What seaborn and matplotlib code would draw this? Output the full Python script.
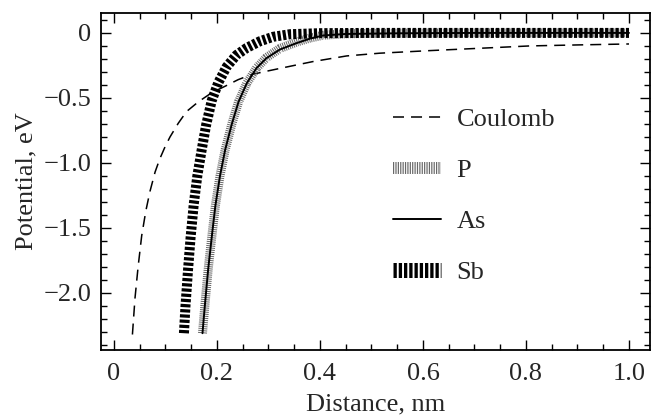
import numpy as np
import pandas as pd
import matplotlib
matplotlib.use("Agg")
import matplotlib.pyplot as plt
import seaborn as sns
from matplotlib.ticker import MultipleLocator

# ----------------------------
# DADOS
# ----------------------------
coulomb_x = [0.036, 0.041, 0.047, 0.054, 0.062, 0.070, 0.080, 0.089, 0.100, 0.109,
             0.125, 0.141, 0.164, 0.190, 0.216, 0.241, 0.267, 0.296, 0.326, 0.355,
             0.387, 0.452, 0.516, 0.614, 0.711, 0.808, 0.905, 1.000]
coulomb_y = [-2.32, -2.04, -1.80, -1.56, -1.37, -1.22, -1.07, -0.97, -0.87, -0.80,
             -0.695, -0.605, -0.53, -0.46, -0.41, -0.36, -0.32, -0.295, -0.27, -0.246,
             -0.22, -0.177, -0.156, -0.136, -0.118, -0.10, -0.092, -0.085]

p_x = [0.172, 0.177, 0.183, 0.190, 0.197, 0.206, 0.216, 0.229, 0.242, 0.258,
       0.277, 0.296, 0.322, 0.355, 0.380, 0.406, 0.45, 0.55, 0.70, 0.85, 1.00]
p_y = [-2.31, -2.08, -1.82, -1.57, -1.33, -1.10, -0.90, -0.70, -0.53, -0.387,
       -0.27, -0.19, -0.12, -0.07, -0.04, -0.018, -0.006, -0.002, 0.0, 0.0, 0.0]

as_x = [0.172, 0.177, 0.183, 0.190, 0.197, 0.206, 0.216, 0.229, 0.242, 0.258,
        0.277, 0.296, 0.322, 0.355, 0.380, 0.406, 0.45, 0.55, 0.70, 0.85, 1.00]
as_y = [-2.31, -2.08, -1.82, -1.57, -1.33, -1.10, -0.90, -0.70, -0.53, -0.387,
        -0.27, -0.195, -0.128, -0.078, -0.045, -0.02, -0.008, -0.003, 0.0, 0.0, 0.0]

sb_x = [0.136, 0.139, 0.144, 0.149, 0.155, 0.162, 0.170, 0.179, 0.190, 0.203,
        0.219, 0.238, 0.258, 0.283, 0.309, 0.342, 0.40, 0.50, 0.65, 0.80, 1.00]
sb_y = [-2.31, -2.10, -1.82, -1.57, -1.32, -1.10, -0.91, -0.71, -0.52, -0.38,
        -0.26, -0.17, -0.115, -0.065, -0.03, -0.01, -0.002, 0.0, 0.0, 0.0, 0.0]

x_ticks = [0, 0.2, 0.4, 0.6, 0.8, 1.0]
x_tick_labels = ["0", "0.2", "0.4", "0.6", "0.8", "1.0"]
y_ticks = [0, -0.5, -1.0, -1.5, -2.0]
y_tick_labels = ["0", "\u22120.5", "\u22121.0", "\u22121.5", "\u22122.0"]

# ----------------------------
# ESTILO
# ----------------------------
sns.set_style("ticks")
plt.rcParams["font.family"] = ["Liberation Serif", "DejaVu Serif"]
fs = 19

fig = plt.figure(figsize=(6.58, 4.16), dpi=100)
ax = fig.add_axes([0.1535, 0.159, 0.988 - 0.1535, 0.969 - 0.159])

coulomb_ls = (0, (7.2, 4.6))
p_ls = (0, (0.11, 0.12))
sb_ls = (0, (0.32, 0.2))

# Coulomb
sns.lineplot(x=coulomb_x, y=coulomb_y, ax=ax, color="black", linewidth=1.1,
             linestyle=coulomb_ls, sort=False, estimator=None, label="Coulomb")
# P
sns.lineplot(x=p_x, y=p_y, ax=ax, color="0.3", linewidth=6.5, alpha=0.85,
             linestyle=p_ls, sort=False, estimator=None, label="P")
# As
sns.lineplot(x=as_x, y=as_y, ax=ax, color="black", linewidth=1.4,
             sort=False, estimator=None, label="As")
# Sb
sns.lineplot(x=sb_x, y=sb_y, ax=ax, color="black", linewidth=7.2,
             linestyle=sb_ls, sort=False, estimator=None, label="Sb")

ax.set_xlim(-0.025, 1.041)
ax.set_ylim(-2.438, 0.154)
ax.set_xticks(x_ticks)
ax.set_xticklabels(x_tick_labels)
ax.set_yticks(y_ticks)
ax.set_yticklabels(y_tick_labels)
ax.xaxis.set_minor_locator(MultipleLocator(0.05))
ax.yaxis.set_minor_locator(MultipleLocator(0.1))
ax.tick_params(which="both", direction="in", top=True, right=True, width=1.0,
               labelsize=fs, color="black")
ax.tick_params(axis="x", which="both", pad=9.5)
ax.tick_params(axis="y", which="both", pad=7)
ax.tick_params(which="major", length=7)
ax.tick_params(which="minor", length=4.5)
for s in ax.spines.values():
    s.set_linewidth(1.3)
    s.set_color("black")

ax.set_xlabel("Distance, nm", fontsize=fs, labelpad=6)
ax.set_ylabel("Potential, eV", fontsize=fs, labelpad=4)

leg = ax.legend(loc="upper left", bbox_to_anchor=(0.489, 0.79), frameon=False,
                fontsize=fs, handlelength=1.8, labelspacing=1.05, handletextpad=0.6)
# handles of the legend drawn a bit taller, as in the original
for h, lw, ls in zip(leg.get_lines(), [1.1, 8.6, 1.4, 10.8],
                     [coulomb_ls, (0, (0.1, 0.1)), "-", (0, (0.22, 0.13))]):
    h.set_linewidth(lw)
    h.set_linestyle(ls)

fig.savefig("out.png", dpi=100)
